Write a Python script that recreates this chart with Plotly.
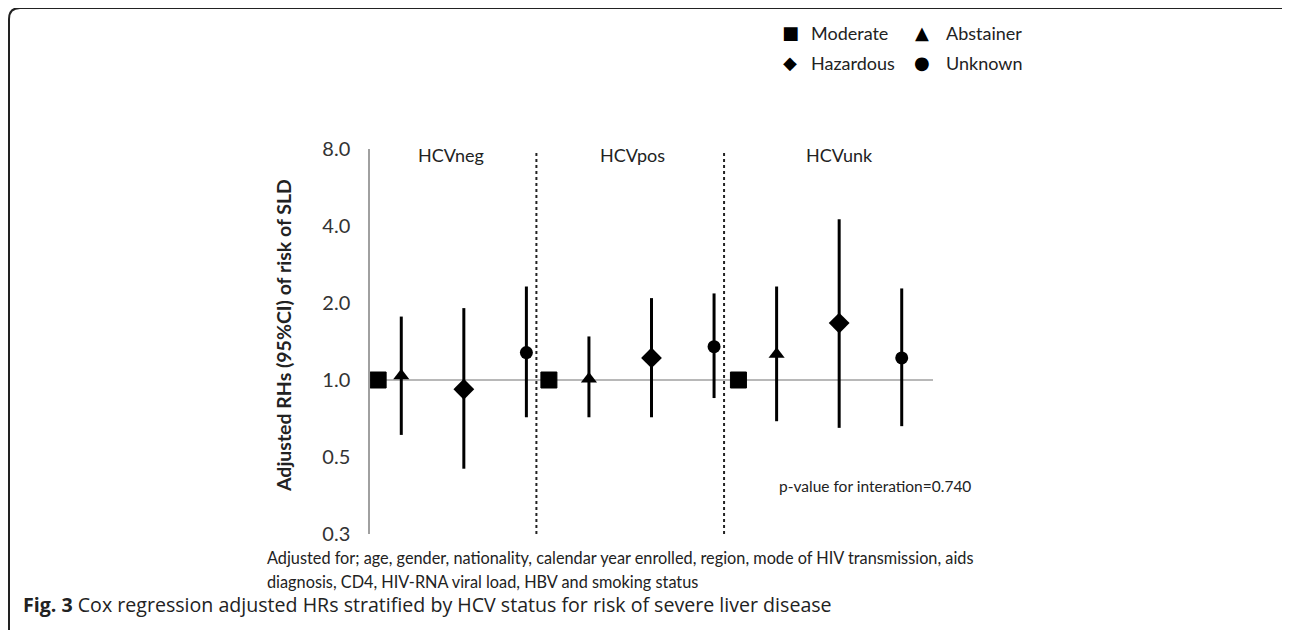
import plotly.graph_objects as go
import math

# ---------------- data ----------------
groups = ["HCVneg", "HCVpos", "HCVunk"]
group_label_x = [1.3, 4.2, 7.5]
separator_x = [2.66, 5.66]

moderate_x = [0.13, 2.86, 5.89]
moderate_hr = [1.0, 1.0, 1.0]

abstainer_x = [0.5, 3.5, 6.5]
abstainer_hr = [1.04, 1.01, 1.26]
abstainer_lo = [0.61, 0.715, 0.69]
abstainer_hi = [1.77, 1.48, 2.32]

hazardous_x = [1.5, 4.5, 7.5]
hazardous_hr = [0.92, 1.22, 1.67]
hazardous_lo = [0.45, 0.715, 0.65]
hazardous_hi = [1.91, 2.09, 4.25]

unknown_x = [2.5, 5.5, 8.5]
unknown_hr = [1.28, 1.35, 1.22]
unknown_lo = [0.715, 0.85, 0.66]
unknown_hi = [2.32, 2.18, 2.28]

tick_vals = [0.25, 0.5, 1, 2, 4, 8]
tick_text = ["0.3", "0.5", "1.0", "2.0", "4.0", "8.0"]

legend_rows = [[("■", "Moderate"), ("▲", "Abstainer")],
               [("◆", "Hazardous"), ("●", "Unknown")]]

# ---------------- layout geometry (window pixels) ----------------
W, H = 1290, 630
OFF = 8  # page body margin
L, R, T, B = 370, 933, 149, 534
PW, PH = R - L, B - T


def px(x):
    return (x - L) / PW


def py(y):
    return (B - y) / PH


FONT = "Lato"
fig = go.Figure()

# reference line at HR = 1
fig.add_shape(type="line", xref="x", yref="y", x0=0, x1=9, y0=1, y1=1,
              line=dict(color="#a0a0a0", width=1.5), layer="below")

# dotted separators
for sx in separator_x:
    fig.add_shape(type="line", xref="x", yref="paper", x0=sx, x1=sx,
                  y0=0, y1=py(153), line=dict(color="#222", width=2, dash="dot"))


def err_trace(x, hr, lo, hi, symbol, size, name):
    return go.Scatter(
        x=x, y=hr, mode="markers", name=name,
        marker=dict(symbol=symbol, size=size, color="black"),
        error_y=dict(type="data", symmetric=False,
                     array=[h - v for h, v in zip(hi, hr)],
                     arrayminus=[v - l for l, v in zip(lo, hr)],
                     color="black", thickness=3, width=0),
        showlegend=False)


fig.add_trace(err_trace(abstainer_x, abstainer_hr, abstainer_lo, abstainer_hi,
                        "triangle-up", 14, "Abstainer"))
fig.add_trace(err_trace(hazardous_x, hazardous_hr, hazardous_lo, hazardous_hi,
                        "diamond", 16, "Hazardous"))
fig.add_trace(err_trace(unknown_x, unknown_hr, unknown_lo, unknown_hi,
                        "circle", 13, "Unknown"))
fig.add_trace(go.Scatter(x=moderate_x, y=moderate_hr, mode="markers", name="Moderate",
                         marker=dict(symbol="square", size=16, color="black",
                                     line=dict(width=1, color="black")),
                         showlegend=False))

annotations = []
# group labels
for g, gx in zip(groups, group_label_x):
    annotations.append(dict(text=g, x=gx, xref="x", y=py(155), yref="paper",
                            xanchor="center", yanchor="middle", showarrow=False,
                            font=dict(family=FONT, size=18, color="#222")))

# y-axis title
annotations.append(dict(text="<b>Adjusted RHs (95%CI) of risk of SLD</b>",
                        x=px(283), y=py(336), xref="paper", yref="paper",
                        textangle=-90, showarrow=False, xanchor="center",
                        yanchor="middle",
                        font=dict(family=FONT, size=19.5, color="#222")))

# legend (custom 2x2)
legend_sym_x = [790, 922]
legend_txt_x = [809, 944]
legend_row_y = [33, 63]
for r, row in enumerate(legend_rows):
    for c, (sym, lab) in enumerate(row):
        annotations.append(dict(text=sym, x=px(legend_sym_x[c]), y=py(legend_row_y[r]),
                                xref="paper", yref="paper", showarrow=False,
                                xanchor="center", yanchor="middle",
                                font=dict(family="DejaVu Sans", size=18, color="black")))
        annotations.append(dict(text=lab, x=px(legend_txt_x[c]), y=py(legend_row_y[r]),
                                xref="paper", yref="paper", showarrow=False,
                                xanchor="left", yanchor="middle",
                                font=dict(family=FONT, size=18, color="#222")))

# p-value
annotations.append(dict(text="p-value for interation=0.740", x=px(777), y=py(486),
                        xref="paper", yref="paper", showarrow=False,
                        xanchor="left", yanchor="middle",
                        font=dict(family=FONT, size=15.5, color="#222")))

# footnote
foot = ["Adjusted for; age, gender, nationality, calendar year enrolled, region, mode of HIV transmission, aids",
        "diagnosis, CD4, HIV-RNA viral load, HBV and smoking status"]
for line, yy in zip(foot, [557, 581]):
    annotations.append(dict(text=line, x=px(265), y=py(yy), xref="paper", yref="paper",
                            showarrow=False, xanchor="left", yanchor="middle",
                            font=dict(family=FONT, size=16.3, color="#222")))

# caption
annotations.append(dict(text="<b>Fig. 3</b> Cox regression adjusted HRs stratified by HCV status for risk of severe liver disease",
                        x=px(21), y=py(604), xref="paper", yref="paper", showarrow=False,
                        xanchor="left", yanchor="middle",
                        font=dict(family="Open Sans", size=19.6, color="#222")))

# rounded frame
pts = [(9, 660), (9, 19), (9, 8), (20, 8), (1282, 8), (1290, 8), (1292, 15), (1292, 660)]
P = [(px(a), py(b)) for a, b in pts]
path = (f"M {P[0][0]},{P[0][1]} L {P[1][0]},{P[1][1]} Q {P[2][0]},{P[2][1]} {P[3][0]},{P[3][1]} "
        f"L {P[4][0]},{P[4][1]} Q {P[5][0]},{P[5][1]} {P[6][0]},{P[6][1]} L {P[7][0]},{P[7][1]}")
fig.add_shape(type="path", xref="paper", yref="paper", path=path,
              line=dict(color="#222", width=2))

fig.update_layout(
    width=W - OFF, height=H - OFF,
    margin=dict(l=L - OFF, r=W - R, t=T - OFF, b=H - B, pad=0),
    paper_bgcolor="white", plot_bgcolor="white",
    annotations=annotations,
    showlegend=False,
)
fig.update_xaxes(range=[0, 9], visible=False, showgrid=False, zeroline=False)
fig.update_yaxes(type="log", range=[math.log10(0.25), math.log10(8)],
                 tickvals=tick_vals, ticktext=tick_text, showgrid=False, zeroline=False,
                 showline=True, linecolor="#a0a0a0", linewidth=1.5, ticks="",
                 ticklabelstandoff=14,
                 tickfont=dict(family=FONT, size=20, color="#333"))

fig.write_html("out.html")
